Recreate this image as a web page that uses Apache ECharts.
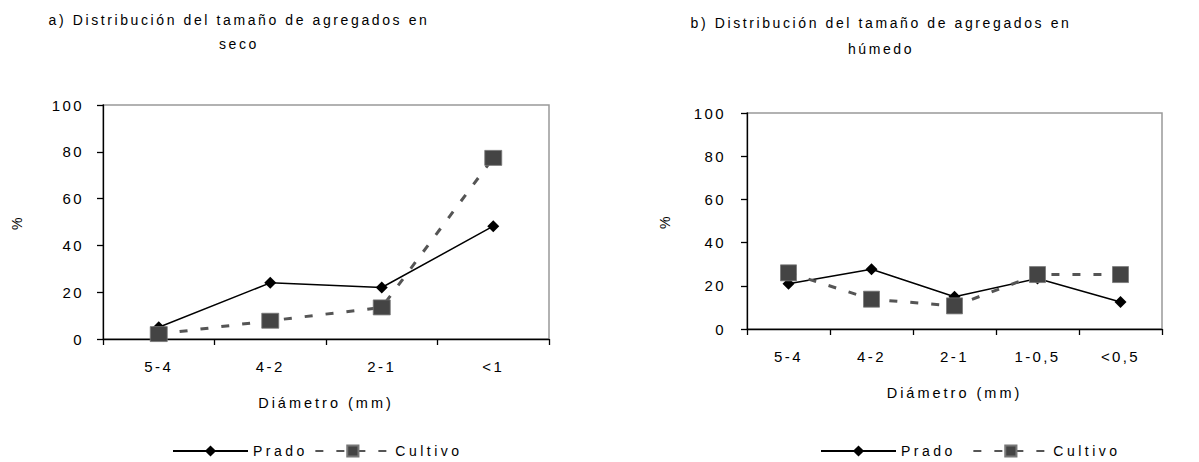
<!DOCTYPE html>
<html><head><meta charset="utf-8">
<script src="https://cdn.jsdelivr.net/npm/echarts@6/dist/echarts.min.js"></script>
<style>html,body{margin:0;padding:0;background:#fff}#c{width:1199px;height:462px}</style>
</head><body><div id="c"></div>
<script>
// ---- data ----
const catsA = ['5-4', '4-2', '2-1', '<1'];
const pradoA = [5.0, 24.0, 22.0, 48.2];
const cultivoA = [2.1, 7.8, 13.5, 77.4];
const catsB = ['5-4', '4-2', '2-1', '1-0,5', '<0,5'];
const pradoB = [21.0, 27.7, 14.9, 23.4, 12.5];
const cultivoB = [26.0, 13.8, 10.7, 25.2, 25.2];
const yMin = 0, yMax = 100, yStep = 20;
const titleA = 'a) Distribución del tamaño de agregados en\nseco';
const titleB = 'b) Distribución del tamaño de agregados en\nhúmedo';
const xName = 'Diámetro (mm)';
const yName = '%';
const seriesNames = ['Prado', 'Cultivo'];

const FONT = '"Liberation Sans", Arial, sans-serif';
const chart = echarts.init(document.getElementById('c'), null, {renderer: 'svg'});

function yAxis(gi, margin, nameGap) {
  return {
    gridIndex: gi, type: 'value', min: yMin, max: yMax, interval: yStep,
    axisLine: {show: true, lineStyle: {color: '#000', width: 1.3}},
    axisTick: {show: true, length: 6, lineStyle: {color: '#000', width: 1.3}},
    splitLine: {show: false},
    axisLabel: {color: '#000', fontSize: 15, fontFamily: FONT, margin: margin},
    name: yName, nameLocation: 'middle', nameGap: nameGap, nameRotate: 90,
    nameTextStyle: {color: '#000', fontSize: 14, fontFamily: FONT}
  };
}
function xAxis(gi, cats) {
  return {
    gridIndex: gi, type: 'category', data: cats, boundaryGap: true,
    axisLine: {show: true, lineStyle: {color: '#000', width: 1.3}},
    axisTick: {show: true, length: 6, lineStyle: {color: '#000', width: 1.3}},
    axisLabel: {color: '#000', fontSize: 15, fontFamily: FONT, margin: 20},
    name: xName, nameLocation: 'middle', nameGap: 56,
    nameTextStyle: {color: '#000', fontSize: 14.5, fontFamily: FONT}
  };
}
function prado(gi, data) {
  return {
    name: seriesNames[0], type: 'line', xAxisIndex: gi, yAxisIndex: gi, data: data,
    symbol: 'diamond', symbolSize: 12,
    itemStyle: {color: '#000'}, lineStyle: {color: '#000', width: 1.5}
  };
}
function cultivo(gi, data, size) {
  return {
    name: seriesNames[1], type: 'line', xAxisIndex: gi, yAxisIndex: gi, data: data,
    symbol: 'rect', symbolSize: size,
    itemStyle: {color: '#444', borderColor: '#777', borderWidth: 0.8},
    lineStyle: {color: '#555', width: 3, type: [8, 13]}
  };
}
function legend(left, gap) {
  return {
    left: left, top: 444, padding: 0, itemWidth: 75, itemHeight: 14, itemGap: gap,
    selectedMode: false, data: seriesNames,
    textStyle: {color: '#000', fontSize: 14, fontFamily: FONT}
  };
}
function title(text, left, top, lh) {
  return {
    text: text, left: left, top: top, textAlign: 'center', padding: 0,
    textStyle: {color: '#000', fontSize: 14, fontWeight: 'normal', fontFamily: FONT, lineHeight: lh}
  };
}

const option = {
  animation: false,
  backgroundColor: '#fff',
  title: [title(titleA, 239, 8, 24), title(titleB, 881, 10, 26)],
  legend: [legend(172, 24), legend(820, 34)],
  grid: [
    {left: 103, top: 105, width: 446, height: 234, show: true, borderColor: '#999', borderWidth: 1.5},
    {left: 747, top: 113, width: 415, height: 216, show: true, borderColor: '#999', borderWidth: 1.5}
  ],
  xAxis: [xAxis(0, catsA), xAxis(1, catsB)],
  yAxis: [yAxis(0, 19, 79), yAxis(1, 21, 75)],
  series: [prado(0, pradoA), cultivo(0, cultivoA, [17, 15]), prado(1, pradoB), cultivo(1, cultivoB, 16)]
};
chart.setOption(option);

const tickTexts = catsA.concat(catsB);
function applySpacing() {
  document.querySelectorAll('#c text').forEach(function (t) {
    const txt = (t.textContent || '').trim();
    let s = 3.5;
    if (tickTexts.indexOf(txt) >= 0 || /^\d+$/.test(txt)) s = 2.4;
    else if (txt.indexOf('Distribución') >= 0 || txt === 'seco' || txt === 'húmedo') s = 2.6;
    else if (txt === xName) s = 3.0;
    t.style.letterSpacing = s + 'px';
  });
}
try { chart.getZr().refreshImmediately(); } catch (e) {}
applySpacing();
chart.on('finished', applySpacing);
setTimeout(applySpacing, 50);
</script>
</body></html>
